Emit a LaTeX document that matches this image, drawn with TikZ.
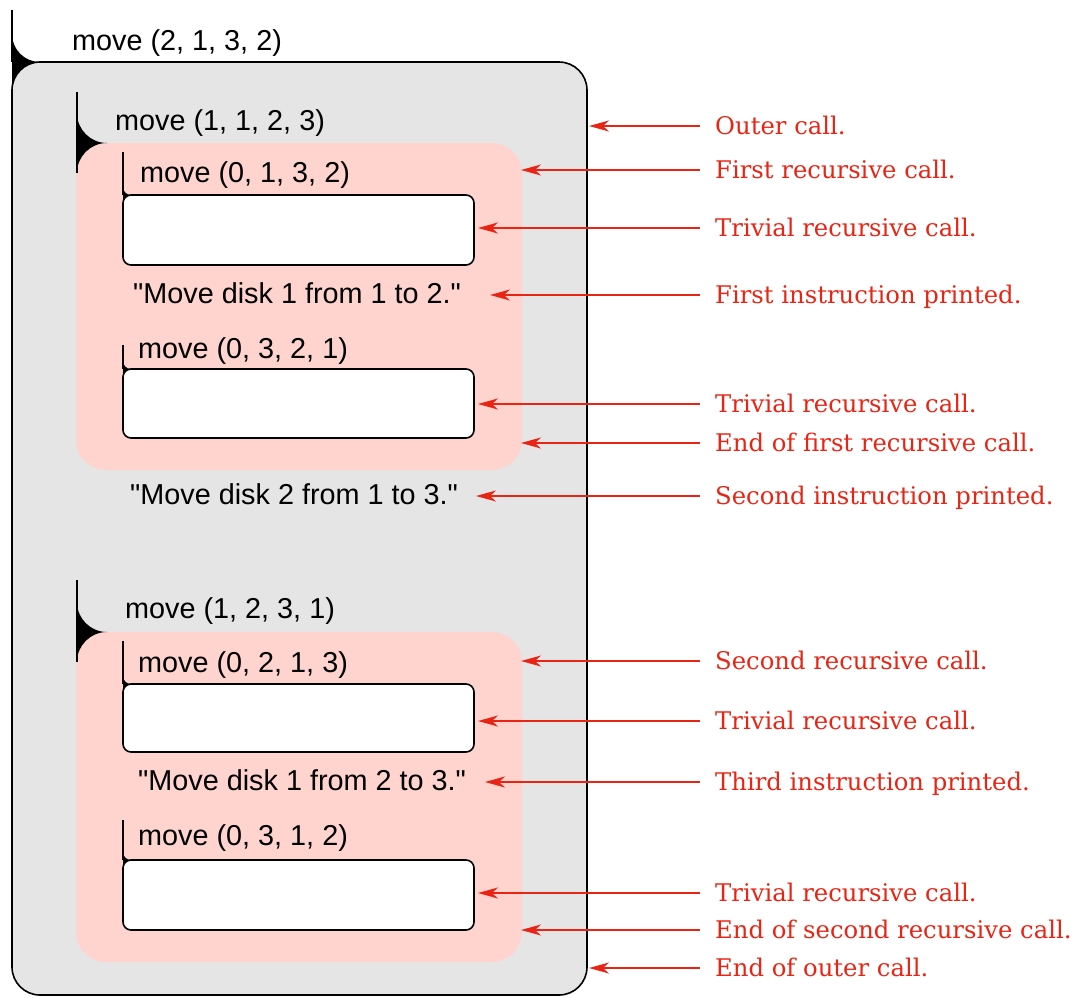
\documentclass[tikz,border=0pt]{standalone}
\usepackage{fontspec}
\setmainfont{DejaVu Serif}
\newfontfamily\callfont{Liberation Sans}
\usetikzlibrary{arrows.meta}

\definecolor{framegray}{RGB}{229,229,229}
\definecolor{callpink}{RGB}{255,212,206}
\definecolor{notered}{RGB}{232,36,20}

\begin{document}
\begin{tikzpicture}[x=1pt,y=-1pt,
  callbox/.style={line width=1.6pt},
  call/.style={anchor=base west,inner sep=0pt,
    font=\callfont\fontsize{28.8}{32}\selectfont},
  note/.style={anchor=base west,inner xsep=15pt,inner ysep=0pt,
    text height=16pt,text depth=0pt,text=notered,
    font=\fontsize{24.3}{28}\selectfont},
  tip/.style={-{Stealth[length=20pt,width=11pt,inset=6pt]},
    draw=notered,line width=1.6pt}]
  \useasboundingbox (0,0) rectangle (1080,997);
  % outer call
  \filldraw[callbox,fill=framegray,rounded corners=28pt] (12,62) rectangle (587,995);
  \draw[callbox] (12,10) -- (12,62);
  % the two recursive calls
  \fill[callpink,rounded corners=30pt] (76,143) rectangle (522,470);
  \fill[callpink,rounded corners=30pt] (76,632) rectangle (522,962);
  \draw[callbox] (77,92) -- (77,173);
  \draw[callbox] (77,580) -- (77,662);
  % trivial calls
  \foreach \top/\bot in {195/265, 369/438, 684/752, 860/930}
    \filldraw[callbox,fill=white,rounded corners=8pt] (123,\top) rectangle (474,\bot);
  \foreach \from/\to in {152/195, 345/369, 641/684, 820/860}
    \draw[callbox] (123,\from) -- (123,\to);
  % cusps where each call opens
  \foreach \cx/\cy/\r in {12/62/28, 77/143/30, 77/632/30,
      123/195/8, 123/369/8, 123/684/8, 123/860/8}
    \fill (\cx,\cy-\r) arc[start angle=180,end angle=90,radius=\r]
      arc[start angle=270,end angle=180,radius=\r] -- cycle;

  \node[call] (m2132) at (72,50)  {move (2, 1, 3, 2)};
  \node[call] (m1123) at (115,130) {move (1, 1, 2, 3)};
  \node[call] (m0132) at (140,182) {move (0, 1, 3, 2)};
  \node[call] (say1)  at (133,303) {"Move disk 1 from 1 to 2."};
  \node[call] (m0321) at (138,358) {move (0, 3, 2, 1)};
  \node[call] (say2)  at (130,504) {"Move disk 2 from 1 to 3."};
  \node[call] (m1231) at (125,618) {move (1, 2, 3, 1)};
  \node[call] (m0213) at (138,672) {move (0, 2, 1, 3)};
  \node[call] (say3)  at (138,790) {"Move disk 1 from 2 to 3."};
  \node[call] (m0312) at (138,845) {move (0, 3, 1, 2)};

  % where the arrows end
  \coordinate (grayR)  at (589,0);
  \coordinate (pinkR)  at (521,0);
  \coordinate (whiteR) at (478,0);
  \coordinate (say1R)  at (490,0);
  \coordinate (say2R)  at (476,0);
  \coordinate (say3R)  at (485,0);

  \node[note] (outer)   at (700,134) {Outer call.};
  \node[note] (first)   at (700,178) {First recursive call.};
  \node[note] (triv1)   at (700,236) {Trivial recursive call.};
  \node[note] (instr1)  at (700,303) {First instruction printed.};
  \node[note] (triv2)   at (700,412) {Trivial recursive call.};
  \node[note] (endfst)  at (700,451) {End of first recursive call.};
  \node[note] (instr2)  at (700,504) {Second instruction printed.};
  \node[note] (second)  at (700,669) {Second recursive call.};
  \node[note] (triv3)   at (700,729) {Trivial recursive call.};
  \node[note] (instr3)  at (700,790) {Third instruction printed.};
  \node[note] (triv4)   at (700,901) {Trivial recursive call.};
  \node[note] (endsnd)  at (700,938) {End of second recursive call.};
  \node[note] (endout)  at (700,976) {End of outer call.};

  \foreach \lbl/\goal in {outer/grayR, first/pinkR, triv1/whiteR, instr1/say1R,
      triv2/whiteR, endfst/pinkR, instr2/say2R, second/pinkR, triv3/whiteR,
      instr3/say3R, triv4/whiteR, endsnd/pinkR, endout/grayR}
    \draw[tip] (\lbl.west) -- (\lbl.west -| \goal);
\end{tikzpicture}
\end{document}
